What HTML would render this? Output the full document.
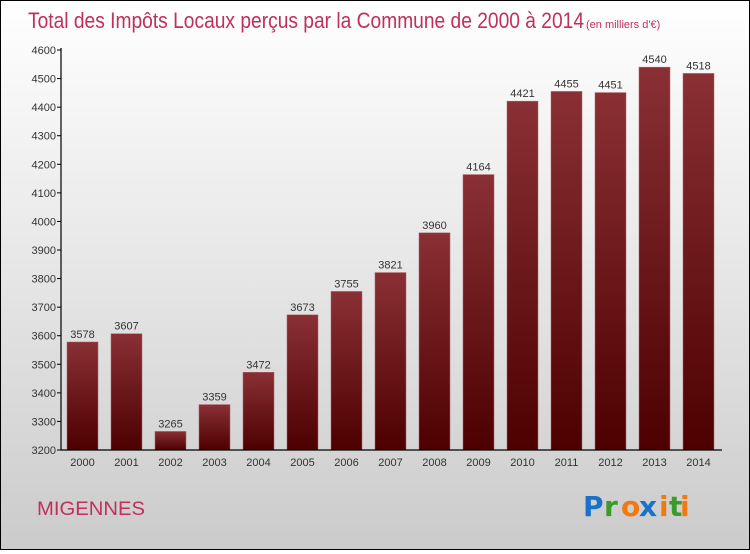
<!DOCTYPE html>
<html><head><meta charset="utf-8"><style>
html,body{margin:0;padding:0}
body{width:750px;height:550px;overflow:hidden;font-family:"Liberation Sans",sans-serif}
#wrap{position:relative;width:748px;height:548px;border:1px solid #000;background:linear-gradient(#ffffff,#e6e6e6 50%,#cbcbcb)}
</style></head><body>
<div id="wrap">
<svg width="748" height="548">
<defs><linearGradient id="bg" x1="0" y1="0" x2="0" y2="1"><stop offset="0" stop-color="#8a3034"/><stop offset="1" stop-color="#4d0000"/></linearGradient></defs>
<text x="27" y="27" font-size="22" fill="#c0305a" textLength="556" lengthAdjust="spacingAndGlyphs">Total des Impôts Locaux perçus par la Commune de 2000 à 2014</text>
<text x="585" y="27" font-size="11" fill="#c0305a">(en milliers d'€)</text>
<g id="plot"></g>
<text x="36" y="514" font-size="19" fill="#c0305a" textLength="108" lengthAdjust="spacingAndGlyphs">MIGENNES</text>
<g font-size="28" font-family="'DejaVu Sans',sans-serif" font-weight="bold">
<text x="582" y="515" fill="#1a72c8">P</text><text x="603" y="515" fill="#3a9a2a">r</text><text x="620" y="515" fill="#f07a10">o</text><text x="638" y="515" fill="#1a72c8">x</text><text x="658" y="515" fill="#f07a10">i</text><text x="668" y="515" fill="#3a9a2a">t</text><text x="679" y="515" fill="#f07a10">i</text>
</g>
</svg>
</div>
<script>
const years=["2000","2001","2002","2003","2004","2005","2006","2007","2008","2009","2010","2011","2012","2013","2014"];
const values=[3578,3607,3265,3359,3472,3673,3755,3821,3960,4164,4421,4455,4451,4540,4518];
const yTicks=[3200,3300,3400,3500,3600,3700,3800,3900,4000,4100,4200,4300,4400,4500,4600];
const NS="http://www.w3.org/2000/svg";
const g=document.getElementById('plot');
const y0=449,yTop=49,vmin=3200,vmax=4600;
function yS(v){return y0-(v-vmin)/(vmax-vmin)*(y0-yTop);}
function xS(i){return 81.5+i*44;}
function mk(t,a,txt){const e=document.createElementNS(NS,t);for(const k in a)e.setAttribute(k,a[k]);if(txt!=null)e.textContent=txt;g.appendChild(e);return e;}
values.forEach((v,i)=>{
 const r=mk('rect',{x:xS(i)-15.5,y:yS(v),width:31,height:y0-yS(v),fill:'url(#bg)',stroke:'#b06068','stroke-width':0.5});
 
 
 const t=mk('text',{x:xS(i),y:yS(v)-4,'font-size':11,'text-anchor':'middle',fill:'#333'},String(v));
 
 
 const xl=mk('text',{x:xS(i),y:y0+16,'font-size':11,'text-anchor':'middle',fill:'#333'},years[i]);
 
 
});
yTicks.forEach(v=>{
 const l=mk('line',{x1:56,x2:60,y1:yS(v),y2:yS(v),stroke:'#000'});
 
 
 const t=mk('text',{x:55,y:yS(v)+4,'font-size':11,'text-anchor':'end',fill:'#333'},String(v));
 
 
});
const ya=mk('line',{x1:60,x2:60,y1:yTop-2,y2:y0,stroke:'#000','stroke-width':1.2});


const xa=mk('line',{x1:60,x2:721,y1:y0,y2:y0,stroke:'#000','stroke-width':1.2});


</script>
</body></html>
